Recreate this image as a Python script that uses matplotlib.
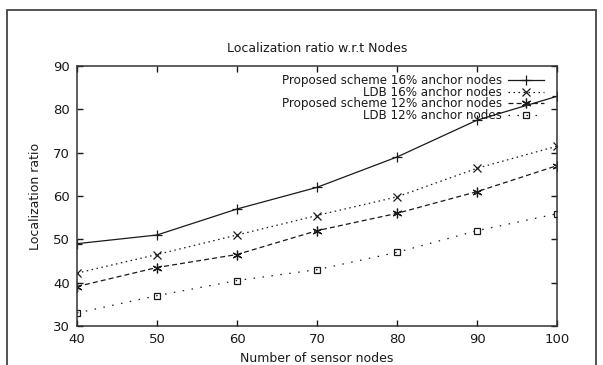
import matplotlib
matplotlib.use("Agg")
import matplotlib.pyplot as plt
from matplotlib.patches import Rectangle

nodes = [40, 50, 60, 70, 80, 90, 100]
proposed_16 = [49, 51, 57, 62, 69, 77.5, 83]
ldb_16 = [42.2, 46.5, 51, 55.5, 59.8, 66.4, 71.5]
proposed_12 = [39.1, 43.5, 46.5, 52, 56, 61, 67]
ldb_12 = [33, 37, 40.5, 43, 47, 52, 55.9]
labels = ["Proposed scheme 16% anchor nodes", "LDB 16% anchor nodes",
          "Proposed scheme 12% anchor nodes", "LDB 12% anchor nodes"]
xticks = [40, 50, 60, 70, 80, 90, 100]
yticks = [30, 40, 50, 60, 70, 80, 90]

plt.rcParams['font.family'] = ['DejaVu Sans']
col = '#1a1a1a'

fig = plt.figure(figsize=(6.03, 3.65), dpi=100)
fig.patches.append(Rectangle((7/603, -0.05), (596-7)/603, 1.05 - 10/365,
                             transform=fig.transFigure, fill=False,
                             edgecolor='#444444', lw=1.3))
ax = fig.add_axes([77/603, 1-326/365, 480/603, 260/365])

ax.plot(nodes, proposed_16, color=col, lw=0.9, ls='-', marker='+', ms=7, mew=0.9, label=labels[0])
ax.plot(nodes, ldb_16, color=col, lw=0.9, ls=(0, (1.2, 2.8)), marker='x', ms=6, mew=0.9, label=labels[1])
ax.plot(nodes, proposed_12, color=col, lw=0.9, ls=(0, (4, 2.5)), marker=(6, 2, 0), ms=7, mew=0.9, label=labels[2])
ax.plot(nodes, ldb_12, color=col, lw=0.9, ls=(0, (1.2, 6)), marker='s', ms=5, mew=0.9,
        mfc='none', label=labels[3])

ax.set_xlim(40, 100)
ax.set_ylim(30, 90)
ax.set_xticks(xticks)
ax.set_yticks(yticks)
ax.tick_params(direction='in', length=4, width=1, top=True, right=True,
               labelsize=9.5, colors=col, pad=5)
for s in ax.spines.values():
    s.set_linewidth(1.1)
    s.set_color('#333333')

ax.set_title("Localization ratio w.r.t Nodes", fontsize=9, color=col, pad=10)
ax.set_xlabel("Number of sensor nodes", fontsize=9, color=col, labelpad=4)
ax.set_ylabel("Localization ratio", fontsize=9, color=col, labelpad=8)

leg = ax.legend(loc='upper right', bbox_to_anchor=(0.973, 0.968), frameon=False,
                markerfirst=False, fontsize=8.6, handlelength=3.0, handletextpad=0.5,
                labelspacing=-0.12, borderpad=0, borderaxespad=0)
for t in leg.get_texts():
    t.set_color(col)

fig.savefig("out.png", dpi=100)
